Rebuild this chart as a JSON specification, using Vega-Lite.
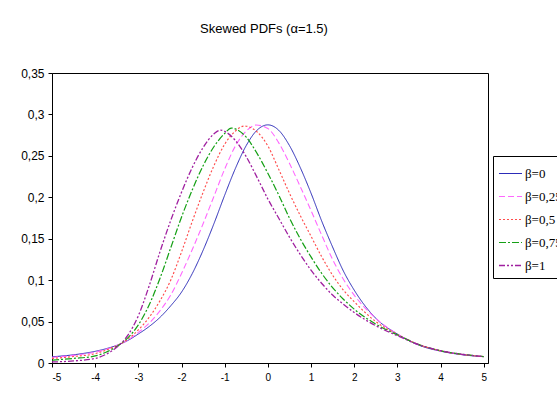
{
"$schema": "https://vega.github.io/schema/vega-lite/v6.json",
"width": 436, "height": 290,
"autosize": {"type": "none"},
"padding": {"left": 52, "top": 73, "right": 69, "bottom": 30},
"background": "white",
"title": {"text": "Skewed PDFs (α=1.5)", "font": "Liberation Sans", "fontSize": 13, "fontWeight": "normal", "color": "#000", "anchor": "middle", "offset": 31, "dx": -6},
"datasets": {"d": [
{"s":"β=0","x":-5,"v":0.0075},{"s":"β=0","x":-4.5,"v":0.0099},{"s":"β=0","x":-4,"v":0.0141},{"s":"β=0","x":-3.75,"v":0.0172},{"s":"β=0","x":-3.5,"v":0.0213},{"s":"β=0","x":-3.25,"v":0.027},{"s":"β=0","x":-3,"v":0.035},{"s":"β=0","x":-2.75,"v":0.044},{"s":"β=0","x":-2.5,"v":0.055},{"s":"β=0","x":-2.25,"v":0.069},{"s":"β=0","x":-2,"v":0.0855},{"s":"β=0","x":-1.75,"v":0.108},{"s":"β=0","x":-1.5,"v":0.136},{"s":"β=0","x":-1.25,"v":0.168},{"s":"β=0","x":-1,"v":0.2025},{"s":"β=0","x":-0.75,"v":0.235},{"s":"β=0","x":-0.5,"v":0.2625},{"s":"β=0","x":-0.25,"v":0.281},{"s":"β=0","x":0,"v":0.2874},{"s":"β=0","x":0.25,"v":0.281},{"s":"β=0","x":0.5,"v":0.2625},{"s":"β=0","x":0.75,"v":0.236},{"s":"β=0","x":1,"v":0.205},{"s":"β=0","x":1.25,"v":0.171},{"s":"β=0","x":1.5,"v":0.14},{"s":"β=0","x":1.75,"v":0.111},{"s":"β=0","x":2,"v":0.088},{"s":"β=0","x":2.5,"v":0.054},{"s":"β=0","x":3,"v":0.035},{"s":"β=0","x":3.5,"v":0.0215},{"s":"β=0","x":4,"v":0.0143},{"s":"β=0","x":4.5,"v":0.01},{"s":"β=0","x":5,"v":0.0076},
{"s":"β=0,25","x":-5,"v":0.0068},{"s":"β=0,25","x":-4.5,"v":0.0092},{"s":"β=0,25","x":-4,"v":0.013},{"s":"β=0,25","x":-3.75,"v":0.0165},{"s":"β=0,25","x":-3.5,"v":0.021},{"s":"β=0,25","x":-3.25,"v":0.0275},{"s":"β=0,25","x":-3,"v":0.037},{"s":"β=0,25","x":-2.75,"v":0.048},{"s":"β=0,25","x":-2.5,"v":0.063},{"s":"β=0,25","x":-2.25,"v":0.082},{"s":"β=0,25","x":-2,"v":0.108},{"s":"β=0,25","x":-1.75,"v":0.137},{"s":"β=0,25","x":-1.5,"v":0.168},{"s":"β=0,25","x":-1.25,"v":0.201},{"s":"β=0,25","x":-1,"v":0.234},{"s":"β=0,25","x":-0.75,"v":0.262},{"s":"β=0,25","x":-0.5,"v":0.28},{"s":"β=0,25","x":-0.27,"v":0.2872},{"s":"β=0,25","x":0,"v":0.283},{"s":"β=0,25","x":0.25,"v":0.266},{"s":"β=0,25","x":0.5,"v":0.241},{"s":"β=0,25","x":0.75,"v":0.213},{"s":"β=0,25","x":1,"v":0.184},{"s":"β=0,25","x":1.25,"v":0.154},{"s":"β=0,25","x":1.5,"v":0.125},{"s":"β=0,25","x":1.75,"v":0.101},{"s":"β=0,25","x":2,"v":0.082},{"s":"β=0,25","x":2.5,"v":0.054},{"s":"β=0,25","x":3,"v":0.035},{"s":"β=0,25","x":3.5,"v":0.022},{"s":"β=0,25","x":4,"v":0.0146},{"s":"β=0,25","x":4.5,"v":0.0102},{"s":"β=0,25","x":5,"v":0.0077},
{"s":"β=0,5","x":-5,"v":0.0055},{"s":"β=0,5","x":-4.5,"v":0.0078},{"s":"β=0,5","x":-4,"v":0.0113},{"s":"β=0,5","x":-3.75,"v":0.0155},{"s":"β=0,5","x":-3.5,"v":0.0208},{"s":"β=0,5","x":-3.25,"v":0.0285},{"s":"β=0,5","x":-3,"v":0.04},{"s":"β=0,5","x":-2.75,"v":0.055},{"s":"β=0,5","x":-2.5,"v":0.075},{"s":"β=0,5","x":-2.25,"v":0.1},{"s":"β=0,5","x":-2,"v":0.134},{"s":"β=0,5","x":-1.75,"v":0.171},{"s":"β=0,5","x":-1.5,"v":0.206},{"s":"β=0,5","x":-1.25,"v":0.238},{"s":"β=0,5","x":-1,"v":0.264},{"s":"β=0,5","x":-0.75,"v":0.28},{"s":"β=0,5","x":-0.55,"v":0.286},{"s":"β=0,5","x":-0.5,"v":0.2858},{"s":"β=0,5","x":-0.25,"v":0.279},{"s":"β=0,5","x":0,"v":0.262},{"s":"β=0,5","x":0.25,"v":0.234},{"s":"β=0,5","x":0.5,"v":0.205},{"s":"β=0,5","x":0.75,"v":0.178},{"s":"β=0,5","x":1,"v":0.153},{"s":"β=0,5","x":1.25,"v":0.128},{"s":"β=0,5","x":1.5,"v":0.106},{"s":"β=0,5","x":1.75,"v":0.088},{"s":"β=0,5","x":2,"v":0.074},{"s":"β=0,5","x":2.5,"v":0.05},{"s":"β=0,5","x":3,"v":0.0345},{"s":"β=0,5","x":3.5,"v":0.0222},{"s":"β=0,5","x":4,"v":0.0148},{"s":"β=0,5","x":4.5,"v":0.0103},{"s":"β=0,5","x":5,"v":0.0077},
{"s":"β=0,75","x":-5,"v":0.0035},{"s":"β=0,75","x":-4.5,"v":0.0055},{"s":"β=0,75","x":-4,"v":0.0085},{"s":"β=0,75","x":-3.75,"v":0.013},{"s":"β=0,75","x":-3.5,"v":0.02},{"s":"β=0,75","x":-3.25,"v":0.03},{"s":"β=0,75","x":-3,"v":0.046},{"s":"β=0,75","x":-2.75,"v":0.07},{"s":"β=0,75","x":-2.5,"v":0.102},{"s":"β=0,75","x":-2.25,"v":0.139},{"s":"β=0,75","x":-2,"v":0.176},{"s":"β=0,75","x":-1.75,"v":0.209},{"s":"β=0,75","x":-1.5,"v":0.238},{"s":"β=0,75","x":-1.25,"v":0.261},{"s":"β=0,75","x":-1,"v":0.277},{"s":"β=0,75","x":-0.85,"v":0.2836},{"s":"β=0,75","x":-0.75,"v":0.2825},{"s":"β=0,75","x":-0.5,"v":0.2725},{"s":"β=0,75","x":-0.25,"v":0.253},{"s":"β=0,75","x":0,"v":0.229},{"s":"β=0,75","x":0.25,"v":0.203},{"s":"β=0,75","x":0.5,"v":0.175},{"s":"β=0,75","x":0.75,"v":0.15},{"s":"β=0,75","x":1,"v":0.128},{"s":"β=0,75","x":1.25,"v":0.108},{"s":"β=0,75","x":1.5,"v":0.091},{"s":"β=0,75","x":1.75,"v":0.077},{"s":"β=0,75","x":2,"v":0.065},{"s":"β=0,75","x":2.5,"v":0.047},{"s":"β=0,75","x":3,"v":0.034},{"s":"β=0,75","x":3.5,"v":0.0222},{"s":"β=0,75","x":4,"v":0.0148},{"s":"β=0,75","x":4.5,"v":0.0105},{"s":"β=0,75","x":5,"v":0.0078},
{"s":"β=1","x":-5,"v":0.0012},{"s":"β=1","x":-4.5,"v":0.0025},{"s":"β=1","x":-4,"v":0.0055},{"s":"β=1","x":-3.75,"v":0.0105},{"s":"β=1","x":-3.5,"v":0.019},{"s":"β=1","x":-3.25,"v":0.033},{"s":"β=1","x":-3,"v":0.057},{"s":"β=1","x":-2.75,"v":0.093},{"s":"β=1","x":-2.5,"v":0.134},{"s":"β=1","x":-2.25,"v":0.172},{"s":"β=1","x":-2,"v":0.206},{"s":"β=1","x":-1.75,"v":0.236},{"s":"β=1","x":-1.5,"v":0.26},{"s":"β=1","x":-1.25,"v":0.2765},{"s":"β=1","x":-1.1,"v":0.281},{"s":"β=1","x":-1,"v":0.2795},{"s":"β=1","x":-0.75,"v":0.2685},{"s":"β=1","x":-0.5,"v":0.249},{"s":"β=1","x":-0.25,"v":0.224},{"s":"β=1","x":0,"v":0.198},{"s":"β=1","x":0.25,"v":0.175},{"s":"β=1","x":0.5,"v":0.152},{"s":"β=1","x":0.75,"v":0.131},{"s":"β=1","x":1,"v":0.112},{"s":"β=1","x":1.25,"v":0.096},{"s":"β=1","x":1.5,"v":0.082},{"s":"β=1","x":1.75,"v":0.071},{"s":"β=1","x":2,"v":0.061},{"s":"β=1","x":2.5,"v":0.045},{"s":"β=1","x":3,"v":0.033},{"s":"β=1","x":3.5,"v":0.022},{"s":"β=1","x":4,"v":0.0148},{"s":"β=1","x":4.5,"v":0.0105},{"s":"β=1","x":5,"v":0.0078}
]},
"data": {"name": "d"},
"mark": {"type": "line", "interpolate": "monotone", "clip": true},
"encoding": {
  "x": {"field": "x", "type": "quantitative", "scale": {"domain": [-5, 5.1], "nice": false, "zero": false},
        "axis": {"values": [-5,-4,-3,-2,-1,0,1,2,3,4,5], "labelExpr": "datum.value < 0 ? '-' + abs(datum.value) : '' + datum.value", "title": null, "grid": false, "domainColor": "#000", "tickColor": "#000", "tickSize": 4, "labelPadding": 5, "labelFont": "Liberation Sans", "labelFontSize": 10, "labelColor": "#000"}},
  "y": {"field": "v", "type": "quantitative", "scale": {"domain": [0, 0.35], "nice": false},
        "axis": {"values": [0,0.05,0.1,0.15,0.2,0.25,0.3,0.35], "labelExpr": "replace(format(datum.value, '.2~f'), '.', ',')", "title": null, "grid": false, "domainColor": "#000", "tickColor": "#000", "tickSize": 4, "labelPadding": 4, "labelFont": "Liberation Sans", "labelFontSize": 12, "labelColor": "#000"}},
  "color": {"field": "s", "type": "nominal", "scale": {"domain": ["β=0","β=0,25","β=0,5","β=0,75","β=1"], "range": ["#2a2ab8","#ff66ff","#ff4c4c","#15a015","#a020a0"]}, "legend": {"title": null}},
  "strokeDash": {"field": "s", "type": "nominal", "scale": {"domain": ["β=0","β=0,25","β=0,5","β=0,75","β=1"], "range": [[1,0],[6,3],[2,2],[7,2,2,2],[6,2,2,2,2,2]]}, "legend": {"title": null}},
  "strokeWidth": {"field": "s", "type": "nominal", "scale": {"domain": ["β=0","β=0,25","β=0,5","β=0,75","β=1"], "range": [1,1.3,1.6,1.3,2]}, "legend": {"title": null}}
},
"config": {
  "view": {"stroke": "#000", "strokeWidth": 1},
  "legend": {"orient": "none", "legendX": 441, "legendY": 83, "strokeColor": "#000", "fillColor": "#fff", "padding": 5, "labelFont": "Liberation Serif", "labelFontSize": 13, "labelColor": "#000", "symbolType": "stroke", "symbolSize": 530, "rowPadding": 3, "labelOffset": 2}
}
}
